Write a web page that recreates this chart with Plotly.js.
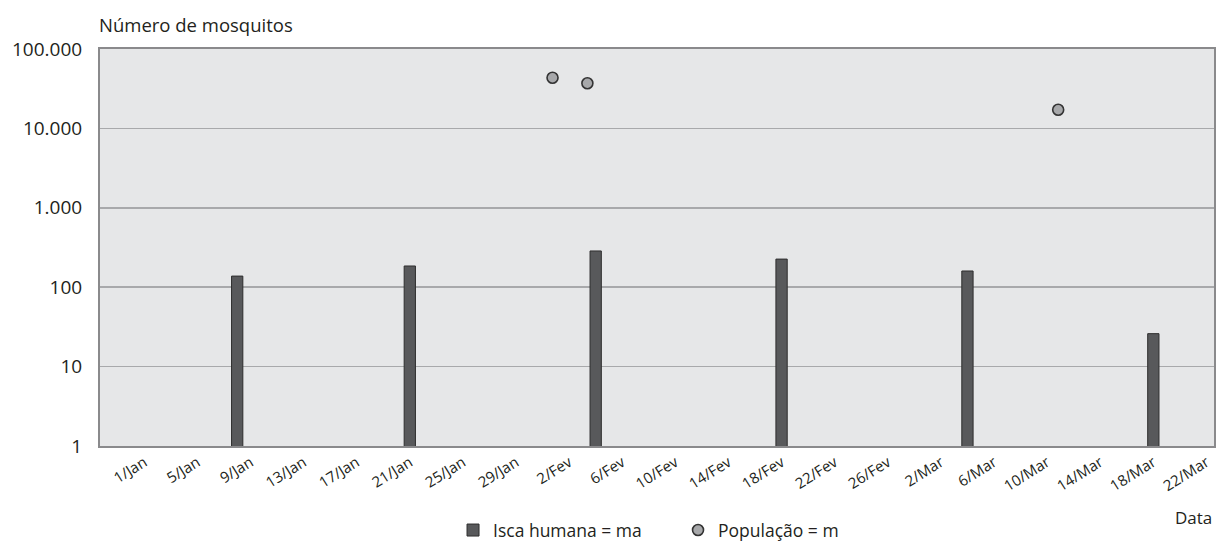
<!DOCTYPE html>
<html>
<head>
<meta charset="utf-8">
<script src="https://cdn.plot.ly/plotly-3.0.1.min.js"></script>
<style>html,body{margin:0;padding:0;background:#fff;}#chart{width:1217px;height:546px;}</style>
</head>
<body>
<div id="chart"></div>
<script>
// Isca humana = ma (bars)
const iscaDates = ['2021-01-08', '2021-01-21', '2021-02-04', '2021-02-18', '2021-03-04', '2021-03-18'];
const iscaValues = [138, 185, 286, 226, 160, 26];
// População = m (points)
const popDates = ['2021-01-31 18:00', '2021-02-03 09:00', '2021-03-10 20:00'];
const popValues = [43500, 37000, 17200];
// x tick labels
const xTickVals = ['2021-01-01','2021-01-05','2021-01-09','2021-01-13','2021-01-17','2021-01-21','2021-01-25','2021-01-29',
  '2021-02-02','2021-02-06','2021-02-10','2021-02-14','2021-02-18','2021-02-22','2021-02-26',
  '2021-03-02','2021-03-06','2021-03-10','2021-03-14','2021-03-18','2021-03-22'];
const xTickText = ['1/Jan','5/Jan','9/Jan','13/Jan','17/Jan','21/Jan','25/Jan','29/Jan',
  '2/Fev','6/Fev','10/Fev','14/Fev','18/Fev','22/Fev','26/Fev',
  '2/Mar','6/Mar','10/Mar','14/Mar','18/Mar','22/Mar'];
// y tick labels
const yTickVals = [1, 10, 100, 1000, 10000, 100000];
const yTickText = ['1', '10', '100', '1.000', '10.000', '100.000'];

const FONT = '"Open Sans", "DejaVu Sans", sans-serif';

const traces = [
  {
    type: 'bar',
    name: 'Isca humana = ma',
    x: iscaDates,
    y: iscaValues,
    width: 0.85 * 86400000,
    marker: {color: '#58595b', line: {color: '#2e2e2e', width: 1}},
    hoverinfo: 'x+y'
  },
  {
    type: 'scatter',
    mode: 'markers',
    name: 'População = m',
    x: popDates,
    y: popValues,
    marker: {symbol: 'circle', size: 11, color: '#a7a8aa', line: {color: '#333333', width: 1.6}}
  }
];

const layout = {
  width: 1217,
  height: 546,
  margin: {l: 100, r: 3, t: 49, b: 100, autoexpand: false},
  paper_bgcolor: '#ffffff',
  plot_bgcolor: '#e6e7e8',
  font: {family: FONT, color: '#231f20', size: 16},
  showlegend: true,
  bargap: 0,
  legend: {
    orientation: 'h', x: 0.3169, xanchor: 'left', y: -0.212, yanchor: 'middle',
    font: {family: FONT, size: 17.5, color: '#231f20'},
    itemwidth: 30, entrywidth: 180, entrywidthmode: 'pixels'
  },
  xaxis: {
    type: 'date',
    range: ['2020-12-28 16:00', '2021-03-22 13:40'],
    tickmode: 'array',
    tickvals: xTickVals,
    ticktext: xTickText,
    tickangle: -32,
    tickfont: {family: FONT, size: 15, color: '#231f20'},
    ticks: '',
    showgrid: false,
    zeroline: false,
    showline: true,
    linecolor: '#8a8a8c',
    linewidth: 2,
    mirror: true,
    fixedrange: true
  },
  yaxis: {
    type: 'log',
    range: [0, 5],
    tickmode: 'array',
    tickvals: yTickVals,
    ticktext: yTickText,
    tickfont: {family: FONT, size: 19, color: '#231f20'},
    ticks: '',
    ticklabelstandoff: 12,
    showgrid: true,
    gridcolor: '#a8a9ab',
    gridwidth: 1.5,
    zeroline: false,
    showline: true,
    linecolor: '#8a8a8c',
    linewidth: 2,
    mirror: true,
    fixedrange: true
  },
  annotations: [
    {text: 'Número de mosquitos', xref: 'paper', yref: 'paper', x: -0.003, y: 1, xanchor: 'left', yanchor: 'bottom',
     yshift: 10, showarrow: false, font: {family: FONT, size: 18.5, color: '#231f20'}},
    {text: 'Data', xref: 'paper', yref: 'paper', x: 1, y: 0, xanchor: 'right', yanchor: 'middle',
     yshift: -71, showarrow: false, font: {family: FONT, size: 17, color: '#231f20'}}
  ]
};

Plotly.newPlot('chart', traces, layout, {displayModeBar: false, staticPlot: true});
</script>
</body>
</html>
